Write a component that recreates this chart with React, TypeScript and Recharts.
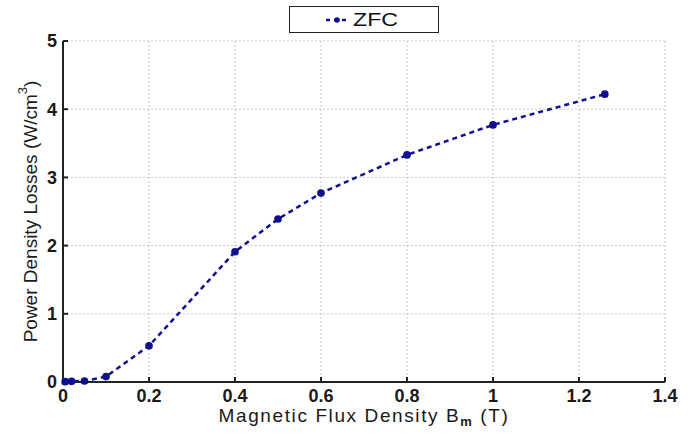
import { LineChart, Line, XAxis, YAxis, CartesianGrid, Legend, Label } from "recharts";

const fluxDensity = [0.005, 0.02, 0.05, 0.1, 0.2, 0.4, 0.5, 0.6, 0.8, 1.0, 1.26];
const zfcLosses = [0.005, 0.01, 0.015, 0.08, 0.53, 1.91, 2.39, 2.77, 3.33, 3.77, 4.22];
const xTicks = [0, 0.2, 0.4, 0.6, 0.8, 1, 1.2, 1.4];
const yTicks = [0, 1, 2, 3, 4, 5];

const data = fluxDensity.map((b, i) => ({ b, zfc: zfcLosses[i] }));

const navy = "#10108f";
const font = "Liberation Sans, Arial, sans-serif";
const tickStyle = { fontSize: 18, fontWeight: 700, fill: "#1a1a1a", fontFamily: font };

function LegendBox() {
  return (
    <div
      style={{
        width: 150,
        height: 27,
        border: "1.5px solid #222",
        background: "#fff",
        display: "flex",
        alignItems: "center",
        boxSizing: "border-box",
        fontFamily: font,
      }}
    >
      <svg width={60} height={24}>
        <line x1={36} x2={58} y1={12} y2={12} stroke={navy} strokeWidth={2.5} strokeDasharray="4 4" />
        <circle cx={47} cy={12} r={2.8} fill={navy} />
      </svg>
      <span
        style={{
          fontSize: 19,
          color: "#111",
          marginLeft: 3,
          display: "inline-block",
          transform: "scaleX(1.22)",
          transformOrigin: "left center",
        }}
      >
        ZFC
      </span>
    </div>
  );
}

function YTitle({ viewBox }: any) {
  const cx = 30;
  const cy = viewBox.y + viewBox.height / 2;
  return (
    <text
      x={cx}
      y={cy}
      transform={`rotate(-90 ${cx} ${cy})`}
      textAnchor="middle"
      dominantBaseline="central"
      style={{ fontSize: 19, fill: "#1a1a1a", fontFamily: font }}
    >
      Power Density Losses (W/cm
      <tspan baselineShift="super" fontSize={13}>3</tspan>
      )
    </text>
  );
}

function XTitle({ viewBox }: any) {
  const cx = viewBox.x + viewBox.width / 2;
  return (
    <text
      x={cx}
      y={422}
      textAnchor="middle"
      style={{ fontSize: 19, fill: "#1a1a1a", fontFamily: font, letterSpacing: 1.6 }}
    >
      Magnetic Flux Density B
      <tspan dy={4} fontSize={13} fontWeight={700}>m</tspan>
      <tspan dy={-4}>{" (T)"}</tspan>
    </text>
  );
}

export default function App() {
  return (
    <div style={{ position: "absolute", left: 0, top: 0, background: "#fff" }}>
      <LineChart width={696} height={434} data={data} margin={{ top: 41, right: 31, bottom: 22, left: 23 }}>
        <CartesianGrid stroke="#c8c8c8" strokeDasharray="2 2" />
        <XAxis
          dataKey="b"
          type="number"
          domain={[0, 1.4]}
          ticks={xTicks}
          interval={0}
          tickSize={-5}
          tickMargin={12}
          stroke="#222"
          strokeWidth={2}
          tick={tickStyle}
          height={30}
        >
          <Label content={<XTitle />} />
        </XAxis>
        <XAxis
          xAxisId="top"
          orientation="top"
          type="number"
          domain={[0, 1.4]}
          ticks={xTicks}
          tick={false}
          tickSize={-5}
          height={0}
          stroke="#222"
          strokeWidth={2}
        />
        <YAxis
          type="number"
          domain={[0, 5]}
          ticks={yTicks}
          interval={0}
          tickSize={-5}
          tickMargin={11}
          stroke="#222"
          strokeWidth={2}
          tick={tickStyle}
          width={40}
        >
          <Label content={<YTitle />} />
        </YAxis>
        <YAxis
          yAxisId="right"
          orientation="right"
          type="number"
          domain={[0, 5]}
          ticks={yTicks}
          tick={false}
          tickSize={-5}
          width={0}
          stroke="#222"
          strokeWidth={2}
        />
        <Legend
          layout="horizontal"
          verticalAlign="middle"
          align="center"
          wrapperStyle={{ top: 6, left: 289, width: 150 }}
          content={<LegendBox />}
        />
        <Line
          dataKey="zfc"
          stroke={navy}
          strokeWidth={2.5}
          strokeDasharray="5 4"
          dot={{ r: 2.6, fill: navy, stroke: navy, strokeDasharray: "" }}
          type="linear"
          isAnimationActive={false}
        />
      </LineChart>
    </div>
  );
}
